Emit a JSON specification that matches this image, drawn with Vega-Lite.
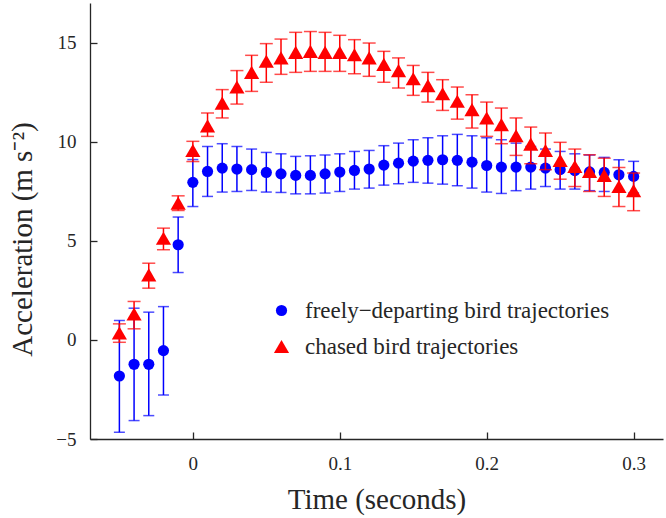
{
  "$schema": "https://vega.github.io/schema/vega-lite/v6.json",
  "width": 573,
  "height": 436,
  "autosize": {"type": "none"},
  "padding": {"left": 90, "top": 3, "right": 3, "bottom": 79},
  "background": "white",
  "config": {
    "font": "Liberation Serif",
    "view": {"stroke": null},
    "axis": {
      "grid": false,
      "domainColor": "#262626",
      "domainWidth": 1.3,
      "tickColor": "#262626",
      "tickWidth": 1.3,
      "tickSize": -7,
      "labelFont": "Liberation Serif",
      "labelFontSize": 19,
      "labelColor": "#262626",
      "titleFont": "Liberation Serif",
      "titleFontSize": 29,
      "titleFontWeight": "normal",
      "titleColor": "#262626"
    },
    "legend": {
      "labelFont": "Liberation Serif",
      "labelFontSize": 23,
      "labelColor": "#262626",
      "labelLimit": 0
    }
  },
  "data": {
    "values": [
      {"series": "freely−departing bird trajectories", "t": -0.05, "mean": -1.82, "lo": -4.66, "hi": 0.98},
      {"series": "freely−departing bird trajectories", "t": -0.04, "mean": -1.23, "lo": -4.07, "hi": 1.6},
      {"series": "freely−departing bird trajectories", "t": -0.03, "mean": -1.23, "lo": -3.82, "hi": 1.4},
      {"series": "freely−departing bird trajectories", "t": -0.02, "mean": -0.54, "lo": -2.78, "hi": 1.68},
      {"series": "freely−departing bird trajectories", "t": -0.01, "mean": 4.8, "lo": 3.4, "hi": 6.2},
      {"series": "freely−departing bird trajectories", "t": 0.0, "mean": 7.95, "lo": 6.73, "hi": 9.1},
      {"series": "freely−departing bird trajectories", "t": 0.01, "mean": 8.5, "lo": 7.24, "hi": 9.76},
      {"series": "freely−departing bird trajectories", "t": 0.02, "mean": 8.67, "lo": 7.46, "hi": 9.9},
      {"series": "freely−departing bird trajectories", "t": 0.03, "mean": 8.62, "lo": 7.49, "hi": 9.76},
      {"series": "freely−departing bird trajectories", "t": 0.04, "mean": 8.59, "lo": 7.54, "hi": 9.63},
      {"series": "freely−departing bird trajectories", "t": 0.05, "mean": 8.45, "lo": 7.46, "hi": 9.46},
      {"series": "freely−departing bird trajectories", "t": 0.06, "mean": 8.38, "lo": 7.44, "hi": 9.39},
      {"series": "freely−departing bird trajectories", "t": 0.07, "mean": 8.3, "lo": 7.37, "hi": 9.26},
      {"series": "freely−departing bird trajectories", "t": 0.08, "mean": 8.3, "lo": 7.37, "hi": 9.29},
      {"series": "freely−departing bird trajectories", "t": 0.09, "mean": 8.38, "lo": 7.41, "hi": 9.33},
      {"series": "freely−departing bird trajectories", "t": 0.1, "mean": 8.47, "lo": 7.49, "hi": 9.39},
      {"series": "freely−departing bird trajectories", "t": 0.11, "mean": 8.55, "lo": 7.61, "hi": 9.51},
      {"series": "freely−departing bird trajectories", "t": 0.12, "mean": 8.62, "lo": 7.66, "hi": 9.56},
      {"series": "freely−departing bird trajectories", "t": 0.13, "mean": 8.82, "lo": 7.81, "hi": 9.8},
      {"series": "freely−departing bird trajectories", "t": 0.14, "mean": 8.92, "lo": 7.88, "hi": 9.93},
      {"series": "freely−departing bird trajectories", "t": 0.15, "mean": 9.02, "lo": 7.95, "hi": 10.1},
      {"series": "freely−departing bird trajectories", "t": 0.16, "mean": 9.06, "lo": 7.91, "hi": 10.2},
      {"series": "freely−departing bird trajectories", "t": 0.17, "mean": 9.09, "lo": 7.86, "hi": 10.3},
      {"series": "freely−departing bird trajectories", "t": 0.18, "mean": 9.06, "lo": 7.78, "hi": 10.37},
      {"series": "freely−departing bird trajectories", "t": 0.19, "mean": 8.97, "lo": 7.66, "hi": 10.3},
      {"series": "freely−departing bird trajectories", "t": 0.2, "mean": 8.8, "lo": 7.46, "hi": 10.2},
      {"series": "freely−departing bird trajectories", "t": 0.21, "mean": 8.72, "lo": 7.39, "hi": 10.1},
      {"series": "freely−departing bird trajectories", "t": 0.22, "mean": 8.72, "lo": 7.53, "hi": 9.93},
      {"series": "freely−departing bird trajectories", "t": 0.23, "mean": 8.72, "lo": 7.61, "hi": 9.76},
      {"series": "freely−departing bird trajectories", "t": 0.24, "mean": 8.67, "lo": 7.74, "hi": 9.63},
      {"series": "freely−departing bird trajectories", "t": 0.25, "mean": 8.59, "lo": 7.61, "hi": 9.51},
      {"series": "freely−departing bird trajectories", "t": 0.26, "mean": 8.54, "lo": 7.61, "hi": 9.39},
      {"series": "freely−departing bird trajectories", "t": 0.27, "mean": 8.48, "lo": 7.53, "hi": 9.33},
      {"series": "freely−departing bird trajectories", "t": 0.28, "mean": 8.45, "lo": 7.49, "hi": 9.21},
      {"series": "freely−departing bird trajectories", "t": 0.29, "mean": 8.33, "lo": 7.49, "hi": 9.09},
      {"series": "freely−departing bird trajectories", "t": 0.3, "mean": 8.25, "lo": 7.41, "hi": 9.01},
      {"series": "chased bird trajectories", "t": -0.05, "mean": 0.35, "lo": -0.12, "hi": 0.81},
      {"series": "chased bird trajectories", "t": -0.04, "mean": 1.31, "lo": 0.56, "hi": 1.94},
      {"series": "chased bird trajectories", "t": -0.03, "mean": 3.28, "lo": 2.61, "hi": 3.87},
      {"series": "chased bird trajectories", "t": -0.02, "mean": 5.13, "lo": 4.55, "hi": 5.64},
      {"series": "chased bird trajectories", "t": -0.01, "mean": 6.9, "lo": 6.53, "hi": 7.27},
      {"series": "chased bird trajectories", "t": 0.0, "mean": 9.56, "lo": 9.0, "hi": 10.02},
      {"series": "chased bird trajectories", "t": 0.01, "mean": 10.8, "lo": 10.27, "hi": 11.45},
      {"series": "chased bird trajectories", "t": 0.02, "mean": 11.95, "lo": 11.2, "hi": 12.63},
      {"series": "chased bird trajectories", "t": 0.03, "mean": 12.76, "lo": 11.9, "hi": 13.59},
      {"series": "chased bird trajectories", "t": 0.04, "mean": 13.5, "lo": 12.54, "hi": 14.36},
      {"series": "chased bird trajectories", "t": 0.05, "mean": 14.06, "lo": 13.0, "hi": 14.95},
      {"series": "chased bird trajectories", "t": 0.06, "mean": 14.23, "lo": 13.4, "hi": 15.18},
      {"series": "chased bird trajectories", "t": 0.07, "mean": 14.51, "lo": 13.5, "hi": 15.52},
      {"series": "chased bird trajectories", "t": 0.08, "mean": 14.56, "lo": 13.55, "hi": 15.56},
      {"series": "chased bird trajectories", "t": 0.09, "mean": 14.51, "lo": 13.55, "hi": 15.52},
      {"series": "chased bird trajectories", "t": 0.1, "mean": 14.51, "lo": 13.55, "hi": 15.37},
      {"series": "chased bird trajectories", "t": 0.11, "mean": 14.39, "lo": 13.43, "hi": 15.15},
      {"series": "chased bird trajectories", "t": 0.12, "mean": 14.23, "lo": 13.3, "hi": 14.98},
      {"series": "chased bird trajectories", "t": 0.13, "mean": 13.9, "lo": 13.0, "hi": 14.56},
      {"series": "chased bird trajectories", "t": 0.14, "mean": 13.59, "lo": 12.71, "hi": 14.23},
      {"series": "chased bird trajectories", "t": 0.15, "mean": 13.18, "lo": 12.34, "hi": 13.85},
      {"series": "chased bird trajectories", "t": 0.16, "mean": 12.83, "lo": 12.0, "hi": 13.5},
      {"series": "chased bird trajectories", "t": 0.17, "mean": 12.42, "lo": 11.58, "hi": 13.13},
      {"series": "chased bird trajectories", "t": 0.18, "mean": 12.04, "lo": 11.14, "hi": 12.76},
      {"series": "chased bird trajectories", "t": 0.19, "mean": 11.62, "lo": 10.69, "hi": 12.37},
      {"series": "chased bird trajectories", "t": 0.2, "mean": 11.2, "lo": 10.27, "hi": 12.0},
      {"series": "chased bird trajectories", "t": 0.21, "mean": 10.86, "lo": 9.9, "hi": 11.7},
      {"series": "chased bird trajectories", "t": 0.22, "mean": 10.3, "lo": 9.31, "hi": 11.2},
      {"series": "chased bird trajectories", "t": 0.23, "mean": 9.88, "lo": 8.89, "hi": 10.74},
      {"series": "chased bird trajectories", "t": 0.24, "mean": 9.56, "lo": 8.59, "hi": 10.44},
      {"series": "chased bird trajectories", "t": 0.25, "mean": 9.06, "lo": 8.11, "hi": 9.97},
      {"series": "chased bird trajectories", "t": 0.26, "mean": 8.75, "lo": 7.74, "hi": 9.63},
      {"series": "chased bird trajectories", "t": 0.27, "mean": 8.5, "lo": 7.49, "hi": 9.34},
      {"series": "chased bird trajectories", "t": 0.28, "mean": 8.3, "lo": 7.24, "hi": 9.17},
      {"series": "chased bird trajectories", "t": 0.29, "mean": 7.74, "lo": 6.73, "hi": 8.7},
      {"series": "chased bird trajectories", "t": 0.3, "mean": 7.53, "lo": 6.52, "hi": 8.42}
    ]
  },
  "encoding": {
    "x": {
      "field": "t",
      "type": "quantitative",
      "title": "Time (seconds)",
      "scale": {"domain": [-0.07, 0.32], "nice": false, "zero": false},
      "axis": {
        "values": [0, 0.1, 0.2, 0.3],
        "format": ".1~f",
        "labelPadding": 22,
        "titleY": 69,
        "titleBaseline": "alphabetic"
      }
    }
  },
  "layer": [
    {
      "transform": [{"filter": "datum.series === 'freely−departing bird trajectories'"}],
      "mark": {"type": "errorbar", "ticks": {"size": 11}, "thickness": 1.5, "color": "#0000ff"},
      "encoding": {
        "y": {
          "field": "lo",
          "type": "quantitative",
          "title": "Acceleration (m s⁻²)",
          "scale": {"domain": [-5, 17], "nice": false, "zero": false},
          "axis": {
            "values": [-5, 0, 5, 10, 15],
            "labelPadding": 21,
            "titleX": -59,
            "titleY": 236,
            "titleBaseline": "alphabetic"
          }
        },
        "y2": {"field": "hi"}
      }
    },
    {
      "transform": [{"filter": "datum.series === 'freely−departing bird trajectories'"}],
      "mark": {"type": "point", "filled": true, "opacity": 1, "strokeWidth": 0},
      "encoding": {
        "y": {"field": "mean", "type": "quantitative", "title": "Acceleration (m s⁻²)"},
        "color": {
          "field": "series",
          "type": "nominal",
          "scale": {
            "domain": ["freely−departing bird trajectories", "chased bird trajectories"],
            "range": ["#0000ff", "#ff0000"]
          },
          "legend": {
            "title": null,
            "orient": "none",
            "legendX": 180,
            "legendY": 296,
            "rowPadding": 12,
            "labelOffset": 12,
            "padding": 0,
            "symbolStrokeWidth": 0
          }
        },
        "shape": {
          "field": "series",
          "type": "nominal",
          "scale": {
            "domain": ["freely−departing bird trajectories", "chased bird trajectories"],
            "range": ["circle", "triangle-up"]
          }
        },
        "size": {
          "field": "series",
          "type": "nominal",
          "scale": {
            "domain": ["freely−departing bird trajectories", "chased bird trajectories"],
            "range": [125, 230]
          }
        }
      }
    },
    {
      "transform": [{"filter": "datum.series === 'chased bird trajectories'"}],
      "mark": {"type": "errorbar", "ticks": {"size": 13}, "thickness": 1.5, "color": "#ff0000"},
      "encoding": {
        "y": {"field": "lo", "type": "quantitative", "title": "Acceleration (m s⁻²)"},
        "y2": {"field": "hi"}
      }
    },
    {
      "transform": [{"filter": "datum.series === 'chased bird trajectories'"}],
      "mark": {"type": "point", "filled": true, "opacity": 1, "strokeWidth": 0},
      "encoding": {
        "y": {"field": "mean", "type": "quantitative", "title": "Acceleration (m s⁻²)"},
        "color": {"field": "series", "type": "nominal"},
        "shape": {"field": "series", "type": "nominal"},
        "size": {"field": "series", "type": "nominal"}
      }
    }
  ]
}
